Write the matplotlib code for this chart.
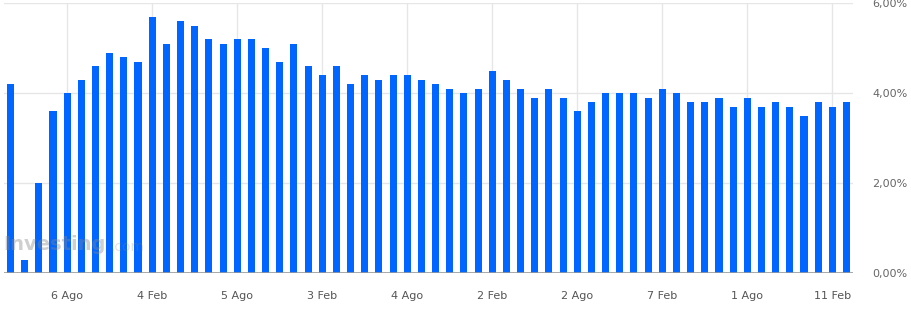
import numpy as np
import matplotlib.pyplot as plt

# monthly values, %
valores = [4.2, 0.3, 2.0, 3.6, 4.0, 4.3, 4.6, 4.9, 4.8, 4.7,
           5.7, 5.1, 5.6, 5.5, 5.2, 5.1, 5.2, 5.2, 5.0, 4.7,
           5.1, 4.6, 4.4, 4.6, 4.2, 4.4, 4.3, 4.4, 4.4, 4.3,
           4.2, 4.1, 4.0, 4.1, 4.5, 4.3, 4.1, 3.9, 4.1, 3.9,
           3.6, 3.8, 4.0, 4.0, 4.0, 3.9, 4.1, 4.0, 3.8, 3.8,
           3.9, 3.7, 3.9, 3.7, 3.8, 3.7, 3.5, 3.8, 3.7, 3.8]
etiquetas_x = ["6 Ago", "4 Feb", "5 Ago", "3 Feb", "4 Ago",
               "2 Feb", "2 Ago", "7 Feb", "1 Ago", "11 Feb"]
pos_x = [4, 10, 16, 22, 28, 34, 40, 46, 52, 58]
ticks_y = [0, 2, 4, 6]
etiquetas_y = ["0,00%", "2,00%", "4,00%", "6,00%"]

fig = plt.figure(figsize=(9.11, 3.18), dpi=100)
ax = fig.add_axes([4 / 911, 44.7 / 318, 849 / 911, 270 / 318])

x = np.arange(len(valores))
ax.bar(x, valores, width=0.5, color="#0066ff", zorder=3)

ax.set_xlim(-0.46, 59.46)
ax.set_ylim(0, 6)

for y in ticks_y[1:]:
    ax.axhline(y, color="#e6e6e6", lw=1, zorder=1)
for p in pos_x:
    ax.axvline(p, color="#e6e6e6", lw=1, zorder=1)
ax.axhline(0, color="#999999", lw=1.2, zorder=4)

for s in ax.spines.values():
    s.set_visible(False)

ax.set_xticks(pos_x)
ax.set_xticklabels(etiquetas_x, fontsize=8, color="#555555")
ax.tick_params(axis="x", length=0, pad=13)

ax.yaxis.tick_right()
ax.set_yticks(ticks_y)
ax.set_yticklabels(etiquetas_y, fontsize=8, color="#666666")
ax.tick_params(axis="y", length=0, pad=14)

# watermark
fig.text(3 / 911, 1 - 245 / 318, "Investing", fontsize=14, fontweight="bold",
         color="#888888", alpha=0.4, va="center", ha="left", zorder=10)
fig.text(110 / 911, 1 - 247 / 318, ".com", fontsize=10,
         color="#888888", alpha=0.25, va="center", ha="left", zorder=10)

fig.savefig("out.png", dpi=100)
